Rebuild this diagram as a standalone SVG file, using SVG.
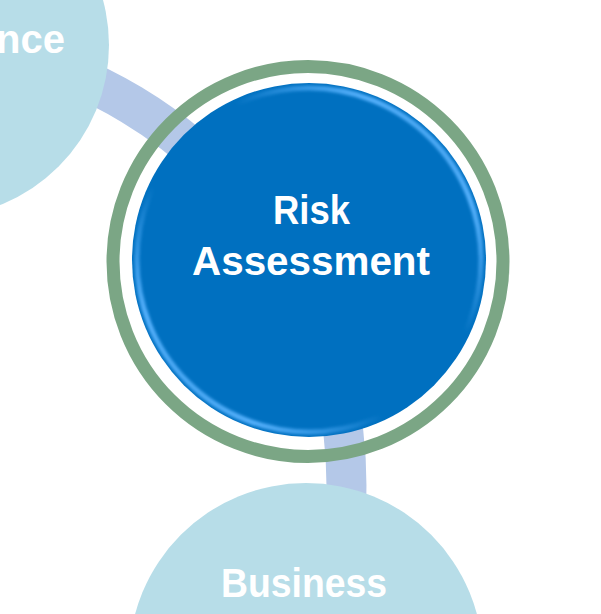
<svg xmlns="http://www.w3.org/2000/svg" width="601" height="614" viewBox="0 0 601 614">
  <style>
    .lbl { font-family: "Liberation Sans", Arial, sans-serif; font-weight: bold; font-size: 40px; fill: #ffffff; }
    .light { fill: #B7DDE8; }
    .band { fill: none; stroke: #B4C8E8; stroke-width: 40; }
  </style>
  <defs>
    <linearGradient id="rim" x1="1" y1="0" x2="0" y2="1">
      <stop offset="0" stop-color="#5ab4ff" stop-opacity="0.3"/>
      <stop offset="0.18" stop-color="#5ab4ff" stop-opacity="0.95"/>
      <stop offset="0.38" stop-color="#5ab4ff" stop-opacity="0"/>
      <stop offset="0.62" stop-color="#5ab4ff" stop-opacity="0"/>
      <stop offset="0.82" stop-color="#5ab4ff" stop-opacity="0.95"/>
      <stop offset="1" stop-color="#5ab4ff" stop-opacity="0.3"/>
    </linearGradient>
    <filter id="soft" x="-10%" y="-10%" width="120%" height="120%">
      <feGaussianBlur stdDeviation="1.5"/>
    </filter>
  </defs>
  <rect width="601" height="614" fill="#ffffff"/>

  <g id="connectors">
    <path class="band" d="M -40 45 A 443 443 0 0 1 327 614"/>
  </g>

  <g id="node-left">
    <circle class="light" cx="-63" cy="45" r="172"/>
    <text class="lbl" x="65" y="53" text-anchor="end">nce</text>
  </g>

  <g id="node-bottom">
    <circle class="light" cx="306" cy="660" r="177"/>
    <text class="lbl" x="304" y="597" text-anchor="middle" textLength="166" lengthAdjust="spacingAndGlyphs">Business</text>
  </g>

  <g id="node-risk">
    <circle cx="308" cy="261.5" r="195" fill="none" stroke="#7BA685" stroke-width="13"/>
    <circle cx="309" cy="260" r="177" fill="#0070C0"/>
    <circle cx="309" cy="260" r="172" fill="none" stroke="url(#rim)" stroke-width="5" filter="url(#soft)"/>
    <text class="lbl" x="311.5" y="224" text-anchor="middle" textLength="77" lengthAdjust="spacingAndGlyphs">Risk</text>
    <text class="lbl" x="311" y="275" text-anchor="middle" textLength="238" lengthAdjust="spacingAndGlyphs">Assessment</text>
  </g>
</svg>
